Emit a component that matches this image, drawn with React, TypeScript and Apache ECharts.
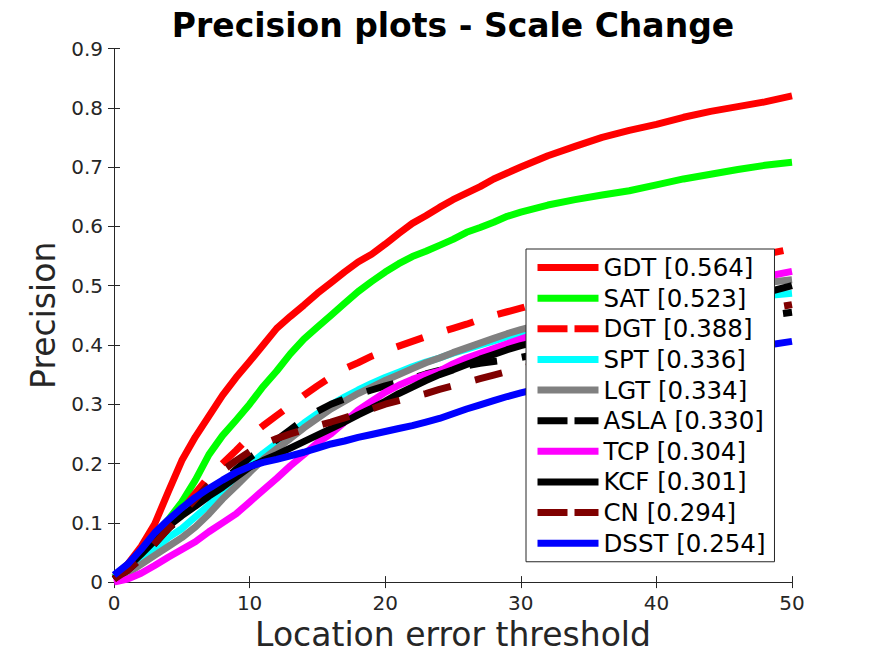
import React, { useEffect, useRef } from "react";
import * as echarts from "echarts";

// thresholds (x values)
const X: number[] = [
  0, 1, 2, 3, 4, 5, 6, 7, 8, 9, 10, 11, 12, 13, 14, 15, 16, 17, 18, 19, 20,
  21, 22, 23, 24, 25, 26, 27, 28, 29, 30, 32, 34, 36, 38, 40, 42, 44, 46, 48, 50,
];

const GDT = [0.008, 0.03, 0.06, 0.098, 0.152, 0.205, 0.245, 0.28, 0.315, 0.345, 0.372, 0.4, 0.428, 0.448, 0.467, 0.487, 0.505, 0.523, 0.54, 0.553, 0.57, 0.588, 0.605, 0.618, 0.632, 0.645, 0.656, 0.667, 0.68, 0.69, 0.7, 0.719, 0.735, 0.75, 0.762, 0.772, 0.784, 0.794, 0.802, 0.81, 0.82];
const SAT = [0.008, 0.025, 0.05, 0.08, 0.105, 0.135, 0.172, 0.215, 0.247, 0.273, 0.3, 0.33, 0.356, 0.385, 0.41, 0.43, 0.45, 0.47, 0.49, 0.507, 0.523, 0.537, 0.549, 0.558, 0.568, 0.578, 0.59, 0.598, 0.607, 0.617, 0.624, 0.636, 0.645, 0.653, 0.66, 0.67, 0.68, 0.688, 0.696, 0.703, 0.708];
const DGT = [0.005, 0.02, 0.04, 0.065, 0.09, 0.12, 0.15, 0.178, 0.2, 0.222, 0.245, 0.264, 0.281, 0.298, 0.315, 0.331, 0.346, 0.36, 0.37, 0.381, 0.39, 0.398, 0.406, 0.414, 0.421, 0.428, 0.435, 0.443, 0.45, 0.456, 0.462, 0.475, 0.487, 0.498, 0.508, 0.517, 0.526, 0.535, 0.544, 0.553, 0.562];
const SPT = [0.008, 0.02, 0.035, 0.055, 0.075, 0.09, 0.11, 0.13, 0.155, 0.175, 0.198, 0.217, 0.234, 0.251, 0.268, 0.284, 0.299, 0.312, 0.324, 0.335, 0.345, 0.354, 0.363, 0.371, 0.378, 0.386, 0.393, 0.4, 0.407, 0.414, 0.42, 0.43, 0.44, 0.449, 0.457, 0.464, 0.47, 0.475, 0.479, 0.483, 0.487];
const LGT = [0.005, 0.015, 0.03, 0.045, 0.06, 0.075, 0.093, 0.115, 0.14, 0.162, 0.185, 0.207, 0.225, 0.242, 0.26, 0.276, 0.292, 0.305, 0.318, 0.329, 0.34, 0.35, 0.36, 0.37, 0.378, 0.387, 0.395, 0.403, 0.411, 0.419, 0.426, 0.438, 0.449, 0.46, 0.47, 0.479, 0.487, 0.494, 0.5, 0.505, 0.51];
const ASLA = [0.005, 0.02, 0.04, 0.065, 0.09, 0.11, 0.13, 0.15, 0.17, 0.19, 0.21, 0.225, 0.24, 0.257, 0.274, 0.288, 0.3, 0.309, 0.317, 0.324, 0.331, 0.337, 0.344, 0.351, 0.357, 0.361, 0.365, 0.369, 0.372, 0.375, 0.379, 0.388, 0.397, 0.406, 0.415, 0.423, 0.43, 0.437, 0.443, 0.449, 0.455];
const TCP = [0.0, 0.005, 0.015, 0.028, 0.042, 0.055, 0.068, 0.085, 0.1, 0.115, 0.135, 0.155, 0.175, 0.196, 0.215, 0.235, 0.25, 0.27, 0.29, 0.305, 0.32, 0.332, 0.342, 0.35, 0.356, 0.368, 0.378, 0.386, 0.394, 0.402, 0.41, 0.425, 0.44, 0.454, 0.466, 0.477, 0.487, 0.496, 0.505, 0.515, 0.524];
const KCF = [0.005, 0.025, 0.047, 0.07, 0.094, 0.112, 0.128, 0.145, 0.16, 0.177, 0.194, 0.205, 0.215, 0.226, 0.237, 0.248, 0.259, 0.27, 0.282, 0.293, 0.305, 0.318, 0.329, 0.34, 0.35, 0.358, 0.367, 0.376, 0.384, 0.392, 0.399, 0.41, 0.42, 0.43, 0.44, 0.449, 0.458, 0.467, 0.477, 0.488, 0.5];
const CN = [0.005, 0.02, 0.04, 0.065, 0.09, 0.115, 0.14, 0.165, 0.188, 0.205, 0.22, 0.233, 0.242, 0.25, 0.257, 0.264, 0.27, 0.277, 0.284, 0.292, 0.3, 0.306, 0.312, 0.318, 0.325, 0.331, 0.337, 0.343, 0.349, 0.355, 0.36, 0.372, 0.384, 0.396, 0.408, 0.419, 0.43, 0.44, 0.45, 0.46, 0.468];
const DSST = [0.012, 0.03, 0.055, 0.083, 0.105, 0.125, 0.143, 0.158, 0.172, 0.185, 0.195, 0.202, 0.207, 0.213, 0.219, 0.226, 0.233, 0.238, 0.244, 0.249, 0.254, 0.259, 0.264, 0.27, 0.276, 0.284, 0.292, 0.299, 0.306, 0.313, 0.319, 0.33, 0.34, 0.35, 0.36, 0.368, 0.376, 0.384, 0.392, 0.399, 0.406];

const NAMES = ["GDT [0.564]", "SAT [0.523]", "DGT [0.388]", "SPT [0.336]", "LGT [0.334]", "ASLA [0.330]", "TCP [0.304]", "KCF [0.301]", "CN [0.294]", "DSST [0.254]"];
const VALUES = [GDT, SAT, DGT, SPT, LGT, ASLA, TCP, KCF, CN, DSST];
const COLORS = ["#ff0000", "#00ff00", "#ff0000", "#00ffff", "#808080", "#000000", "#ff00ff", "#000000", "#800000", "#0000ff"];
const DASHED = [false, false, true, false, false, true, false, false, true, false];

const X_TICKS = [0, 10, 20, 30, 40, 50];
const Y_MAX = 0.9;

export default function App() {
  const ref = useRef<HTMLDivElement>(null);
  useEffect(() => {
    if (!ref.current) return;
    const chart = echarts.init(ref.current, undefined, { renderer: "svg" });
    const axisColor = "#262626";
    const font = "DejaVu Sans";
    const series = NAMES.map((name, i) => ({
      name,
      type: "line",
      data: X.map((x, j) => [x, VALUES[i][j]]),
      symbol: "none",
      smooth: false,
      lineStyle: {
        color: COLORS[i],
        width: 7,
        type: DASHED[i] ? [28, 25] : "solid",
        cap: "butt",
        join: "round",
      },
      itemStyle: { color: COLORS[i] },
      emphasis: { disabled: true },
    }));
    const baseX = {
      type: "value",
      min: X_TICKS[0],
      max: X_TICKS[X_TICKS.length - 1],
      interval: 10,
      splitLine: { show: false },
      axisLine: { show: true, lineStyle: { color: axisColor, width: 1 } },
      axisTick: { show: true, inside: true, length: 6, lineStyle: { color: axisColor } },
    };
    const baseY = {
      type: "value",
      min: 0,
      max: Y_MAX,
      interval: 0.1,
      splitLine: { show: false },
      axisLine: { show: true, lineStyle: { color: axisColor, width: 1 } },
      axisTick: { show: true, inside: true, length: 6, lineStyle: { color: axisColor } },
    };
    chart.setOption({
      animation: false,
      backgroundColor: "#ffffff",
      title: {
        text: "Precision plots - Scale Change",
        left: 448,
        textAlign: "center",
        top: 4,
        textStyle: { fontFamily: font, fontSize: 33, fontWeight: "bold", color: "#000000" },
      },
      grid: { left: 114, width: 678, top: 48.5, height: 537.2, containLabel: false },
      xAxis: [
        {
          ...baseX,
          position: "bottom",
          name: "Location error threshold",
          nameLocation: "middle",
          nameGap: 35,
          nameTextStyle: { fontFamily: font, fontSize: 33, color: axisColor },
          axisLabel: { fontFamily: font, fontSize: 20, color: axisColor, margin: 11 },
        },
        { ...baseX, position: "top", axisLabel: { show: false } },
      ],
      yAxis: [
        {
          ...baseY,
          position: "left",
          name: "Precision",
          nameLocation: "middle",
          nameGap: 48,
          nameTextStyle: { fontFamily: font, fontSize: 33, color: axisColor },
          axisLabel: {
            fontFamily: font,
            fontSize: 20,
            color: axisColor,
            margin: 11,
            formatter: (v: number) => (v === 0 ? "0" : v.toFixed(1)),
          },
        },
        { ...baseY, position: "right", axisLabel: { show: false } },
      ],
      legend: {
        orient: "vertical",
        left: 526,
        top: 249,
        padding: [6, 9, 6, 8],
        itemWidth: 61,
        itemHeight: 20,
        itemGap: 5.64,
        backgroundColor: "#ffffff",
        borderColor: axisColor,
        borderWidth: 1,
        selectedMode: false,
        textStyle: { fontFamily: font, fontSize: 24.5, color: "#000000" },
        itemStyle: { color: "rgba(0,0,0,0)", borderWidth: 0, opacity: 0 },
        lineStyle: { width: 7 },
        data: NAMES.map((name, i) =>
          DASHED[i]
            ? { name, lineStyle: { type: [30, 7], width: 7 }, itemStyle: { opacity: 0 } }
            : { name, lineStyle: { width: 7 }, itemStyle: { opacity: 0 } }
        ),
      },
      series,
    });
    return () => chart.dispose();
  }, []);
  return (
    <div
      ref={ref}
      style={{ position: "fixed", left: 0, top: 0, width: 875, height: 656, background: "#fff" }}
    />
  );
}
